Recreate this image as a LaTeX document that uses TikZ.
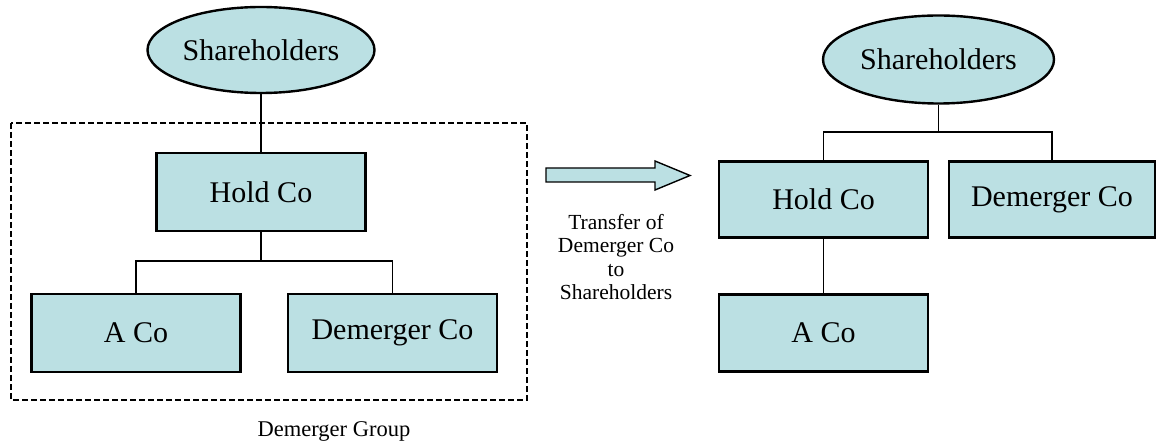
\documentclass[tikz,border=0pt]{standalone}
\usepackage{fontspec}
\setmainfont{Liberation Serif}
\usetikzlibrary{shapes.geometric}
\definecolor{boxfill}{RGB}{187,224,227}
\tikzset{
  cobox/.style={draw, line width=2.8pt, fill=boxfill, rectangle, inner sep=0pt,
    minimum width=209pt, minimum height=78pt, font=\fontsize{30}{36}\selectfont},
  holders/.style={draw, line width=2.4pt, fill=boxfill, ellipse, inner sep=0pt,
    minimum width=227pt, minimum height=86pt, font=\fontsize{30}{36}\selectfont},
  link/.style={draw, line width=1.1pt},
  groupline/.style={draw, line width=1.8pt, dash pattern=on 6pt off 3pt},
}
\begin{document}
\begin{tikzpicture}[x=1pt, y=-1pt]
\useasboundingbox (0,0) rectangle (1157,446);

% before: group structure
\draw[groupline] (11,123) rectangle (527,400);
\node[holders] (shL) at (261,50) {Shareholders};
\node[cobox] (holdL) at (261,192) {Hold Co};
\node[cobox] (aL) at (136,333) {A Co};
\node[cobox] (demL) at (392.5,333) {Demerger Co};
\coordinate (jL) at (261,261);
\draw[link] (shL.south) -- (holdL.north);
\draw[link] (holdL.south) -- (jL);
\draw[link] (aL.north) |- (jL) -| (demL.north);
\node[font=\fontsize{22.5}{27}\selectfont] (grp) at (334,431) {Demerger Group};

% transfer arrow
\draw[line width=1.4pt, fill=boxfill]
  (546,168) -- (655,168) -- (655,161) -- (690,175.5) -- (655,190) -- (655,182) -- (546,182) -- cycle;
\node[align=center, font=\fontsize{21.5}{23.5}\selectfont] (xfer) at (616,257)
  {Transfer of\\Demerger Co\\to\\Shareholders};

% after: demerged structure
\node[holders, minimum width=231pt, minimum height=88pt] (shR) at (938.5,59.5) {Shareholders};
\node[cobox, minimum height=76pt] (holdR) at (823.5,199.5) {Hold Co};
\node[cobox, minimum width=206pt, minimum height=76pt] (demR) at (1052,199.5) {Demerger Co};
\node[cobox, minimum height=77pt] (aR) at (823.5,333) {A Co};
\coordinate (jR) at (938.5,132);
\draw[link] (shR.south) -- (jR);
\draw[link] (holdR.north) |- (jR) -| (demR.north);
\draw[link] (holdR.south) -- (aR.north);
\end{tikzpicture}
\end{document}
